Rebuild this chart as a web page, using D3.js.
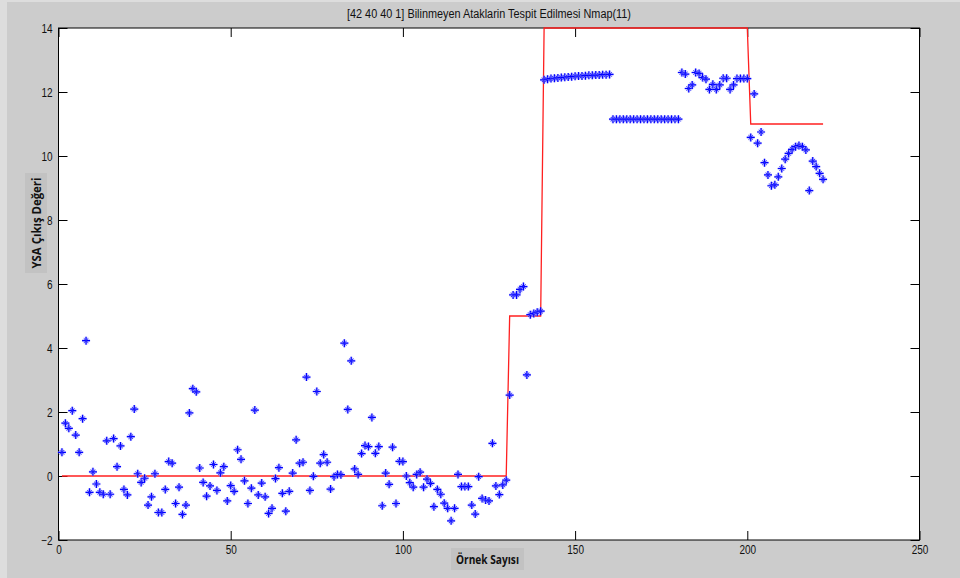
<!DOCTYPE html>
<html><head><meta charset="utf-8">
<script src="https://cdn.jsdelivr.net/npm/d3@7/dist/d3.min.js"></script>
<style>body{margin:0;background:#cccccc;overflow:hidden}</style>
</head><body>
<svg id="c" width="960" height="578"></svg>
<script>
const title = "[42 40 40 1] Bilinmeyen Ataklarin Tespit Edilmesi Nmap(11)";
const xLabel = "Örnek Sayısı";
const yLabel = "YSA Çıkış Değeri";
const xTicks = [0, 50, 100, 150, 200, 250];
const yTicks = [-2, 0, 2, 4, 6, 8, 10, 12, 14];

// network outputs, samples 1..222
const outputs = [
  0.74, 1.65, 1.49, 2.04, 1.28, 0.74, 1.79, 4.23, -0.51, 0.13,
  -0.25, -0.51, -0.57, 1.10, -0.57, 1.17, 0.29, 0.94, -0.42, -0.59,
  1.23, 2.09, 0.07, -0.20, -0.07, -0.91, -0.65, 0.07, -1.14, -1.14,
  -0.42, 0.45, 0.40, -0.86, -0.35, -1.20, -0.91, 1.97, 2.73, 2.63,
  0.25, -0.20, -0.63, -0.31, 0.36, -0.45, 0.10, 0.29, -0.78, -0.30,
  -0.48, 0.82, 0.52, -0.15, -0.86, -0.38, 2.06, -0.59, -0.22, -0.65,
  -1.17, -1.01, -0.08, 0.26, -0.54, -1.10, -0.48, 0.09, 1.13, 0.40,
  0.43, 3.09, -0.45, -0.01, 2.64, 0.40, 0.67, 0.43, -0.41, -0.02,
  0.05, 0.04, 4.15, 2.08, 3.60, 0.22, 0.05, 0.70, 0.95, 0.92,
  1.83, 0.71, 0.92, -0.93, 0.09, -0.26, 0.90, -0.86, 0.46, 0.45,
  0.00, -0.21, -0.35, 0.05, 0.12, -0.35, -0.10, -0.23, -0.96, -0.42,
  -0.57, -0.85, -1.01, -1.40, -1.01, 0.05, -0.33, -0.33, -0.33, -0.91,
  -1.19, -0.02, -0.70, -0.75, -0.78, 1.02, -0.31, -0.58, -0.28, -0.13,
  2.53, 5.66, 5.66, 5.83, 5.92, 3.16, 5.04, 5.08, 5.12, 5.15,
  12.38, 12.40, 12.42, 12.43, 12.44, 12.45, 12.46, 12.47, 12.48, 12.49,
  12.50, 12.50, 12.51, 12.52, 12.52, 12.53, 12.53, 12.54, 12.54, 12.55,
  11.15, 11.15, 11.15, 11.15, 11.15, 11.15, 11.15, 11.15, 11.15, 11.15,
  11.15, 11.15, 11.15, 11.15, 11.15, 11.15, 11.15, 11.15, 11.15, 11.15,
  12.61, 12.56, 12.11, 12.22, 12.61, 12.58, 12.45, 12.40, 12.08, 12.24,
  12.08, 12.22, 12.43, 12.43, 12.08, 12.22, 12.42, 12.42, 12.42, 12.42,
  10.58, 11.94, 10.40, 10.75, 9.79, 9.41, 9.07, 9.10, 9.35, 9.61,
  9.90, 10.08, 10.21, 10.29, 10.33, 10.29, 10.19, 8.92, 9.84, 9.67,
  9.46, 9.27
];

// target (expected) output: step breakpoints
const targetX = [1, 130, 131, 140, 141, 200, 201, 222];
const targetY = [0, 0, 5, 5, 14, 14, 11, 11];

const svg = d3.select("#c");
svg.append("rect").attr("width", 960).attr("height", 578).attr("fill", "#cccccc");
svg.append("rect").attr("width", 7).attr("height", 578).attr("fill", "#dddddd");
svg.append("rect").attr("width", 960).attr("height", 2).attr("fill", "#dddddd");

const x = d3.scaleLinear().domain([0, 250]).range([58.5, 919.5]);
const y = d3.scaleLinear().domain([-2, 14]).range([540, 28]);
const [x0, x1] = x.range();
const [y0, y1] = y.range();

svg.append("rect").attr("x", x0).attr("y", y1).attr("width", x1 - x0).attr("height", y0 - y1)
  .attr("fill", "#ffffff");

const tickFont = g => g.selectAll("text")
  .attr("font-family", "'Liberation Sans', Arial, sans-serif")
  .attr("font-size", 12.5).attr("fill", "#111");

const gB = svg.append("g").attr("transform", `translate(0,${y0})`)
  .call(d3.axisBottom(x).tickValues(xTicks).tickSizeInner(-9).tickSizeOuter(0).tickPadding(5))
  .call(tickFont);
const gL = svg.append("g").attr("transform", `translate(${x0},0)`)
  .call(d3.axisLeft(y).tickValues(yTicks).tickSizeInner(-9).tickSizeOuter(0).tickPadding(6))
  .call(tickFont);
const gT = svg.append("g").attr("transform", `translate(0,${y1})`)
  .call(d3.axisTop(x).tickValues(xTicks).tickSizeInner(-9).tickSizeOuter(0).tickFormat(""));
const gR = svg.append("g").attr("transform", `translate(${x1},0)`)
  .call(d3.axisRight(y).tickValues(yTicks).tickSizeInner(-9).tickSizeOuter(0).tickFormat(""));
[gB, gL, gT, gR].forEach(g => {
  g.select(".domain").remove();
  g.selectAll("line").attr("stroke", "#000");
});

svg.append("rect").attr("x", x0).attr("y", y1).attr("width", x1 - x0).attr("height", y0 - y1)
  .attr("fill", "none").attr("stroke", "#000").attr("stroke-width", 1);

// condense tick labels
svg.selectAll(".tick text").each(function () {
  const w = this.getComputedTextLength();
  d3.select(this).attr("textLength", w * 0.8).attr("lengthAdjust", "spacingAndGlyphs");
});

// target line
const line = d3.line().x(d => x(d[0])).y(d => y(d[1]));
svg.append("path").datum(targetX.map((v, i) => [v, targetY[i]]))
  .attr("d", line).attr("fill", "none").attr("stroke", "#ff2020").attr("stroke-width", 1.3);

// asterisk markers (MATLAB '*', softened like the reference)
const plus = "M-4,0H4M0,-4V4";
const diag = "M-2.2,-2.2L2.2,2.2M-2.2,2.2L2.2,-2.2";
const mk = svg.append("g").selectAll("g").data(outputs).join("g")
  .attr("transform", (d, i) => `translate(${x(i + 1)},${y(d)})`);
mk.append("path").attr("d", plus + diag).attr("fill", "none")
  .attr("stroke", "#9a9aff").attr("stroke-width", 2.6).attr("stroke-opacity", 0.55);
mk.append("path").attr("d", plus).attr("fill", "none")
  .attr("stroke", "#0000ff").attr("stroke-width", 1.2);
mk.append("path").attr("d", diag).attr("fill", "none")
  .attr("stroke", "#2020ff").attr("stroke-width", 0.9);

// title
svg.append("text").attr("x", 489).attr("y", 18).attr("text-anchor", "middle")
  .attr("font-family", "'Liberation Sans', Arial, sans-serif").attr("font-size", 12.5)
  .attr("fill", "#111").attr("textLength", 284).attr("lengthAdjust", "spacingAndGlyphs")
  .text(title);

// x label
svg.append("rect").attr("x", 451).attr("y", 548).attr("width", 73).attr("height", 22).attr("fill", "#c2c2c2");
svg.append("text").attr("x", 487.5).attr("y", 563.5).attr("text-anchor", "middle")
  .attr("font-family", "'Open Sans', 'Liberation Sans', sans-serif").attr("font-weight", "bold")
  .attr("font-size", 12.5).attr("fill", "#111")
  .attr("textLength", 63).attr("lengthAdjust", "spacingAndGlyphs").text(xLabel);

// y label
svg.append("rect").attr("x", 25).attr("y", 173).attr("width", 22).attr("height", 100).attr("fill", "#c2c2c2");
svg.append("text").attr("transform", "translate(40.5,223) rotate(-90)").attr("text-anchor", "middle")
  .attr("font-family", "'Open Sans', 'Liberation Sans', sans-serif").attr("font-weight", "bold")
  .attr("font-size", 12.5).attr("fill", "#111")
  .attr("textLength", 91).attr("lengthAdjust", "spacingAndGlyphs").text(yLabel);
</script>
</body></html>
